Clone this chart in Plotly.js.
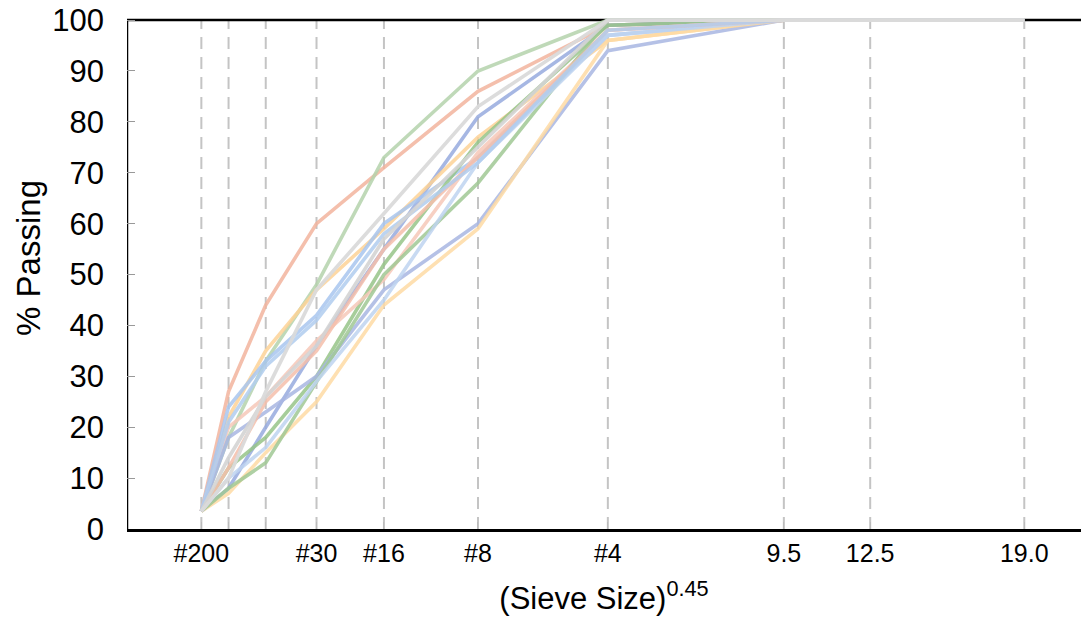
<!DOCTYPE html>
<html>
<head>
<meta charset="utf-8">
<script src="https://cdn.plot.ly/plotly-3.0.1.min.js"></script>
<style>html,body{margin:0;padding:0;background:#fff;}#chart{width:1081px;height:619px;}</style>
</head>
<body>
<div id="chart"></div>
<script>
// Sieve sizes (mm) and tick labels
const sieveSizes = [0.075, 0.15, 0.3, 0.6, 1.18, 2.36, 4.75, 9.5, 12.5, 19.0];
const tickLabels = ["#200", "", "", "#30", "#16", "#8", "#4", "9.5", "12.5", "19.0"];
const yTicks = [0, 10, 20, 30, 40, 50, 60, 70, 80, 90, 100];

// % passing for each gradation
const salmonA = [3.5, 27, 44, 60, 71, 86, 99, 100, 100, 100];
const greenA  = [3.5, 18, 33, 48, 73, 90, 100, 100, 100, 100];
const blueA   = [3.5, 8, 20, 36, 55, 81, 99, 100, 100, 100];
const orangeA = [3.5, 22, 35, 47, 59, 77, 96, 100, 100, 100];
const lblueA  = [3.5, 24, 33, 42, 60, 73, 97, 100, 100, 100];
const greenB  = [3.5, 12, 18, 30, 52, 76, 99, 100, 100, 100];
const salmonB = [3.5, 20, 26, 37, 49, 74, 98, 100, 100, 100];
const blueB   = [3.5, 18, 23, 30, 47, 60, 94, 100, 100, 100];
const orangeB = [3.5, 7, 15, 25, 44, 59, 96, 100, 100, 100];
const greenC  = [3.5, 8, 13, 29, 50, 68, 100, 100, 100, 100];
const lblueB  = [3.5, 10, 16, 29, 45, 72, 97, 100, 100, 100];
const salmonC = [3.5, 12, 25, 35, 55, 73, 98, 100, 100, 100];
const lblueC  = [3.5, 21, 32, 41, 58, 72, 98, 100, 100, 100];
const grayB   = [3.5, 14, 26, 36, 57, 75, 100, 100, 100, 100];
const grayA   = [3.5, 10, 27, 47, 62, 83, 100, 100, 100, 100];

const seriesList = [salmonA, greenA, blueA, orangeA, lblueA, greenB, salmonB, blueB, orangeB, greenC, lblueB, salmonC, lblueC, grayB, grayA];
const seriesColors = [
  'rgba(242,180,158,0.85)', 'rgba(180,210,172,0.85)', 'rgba(150,170,222,0.85)',
  'rgba(253,210,150,0.85)', 'rgba(168,198,238,0.85)', 'rgba(150,196,136,0.85)',
  'rgba(246,200,184,0.85)', 'rgba(168,182,226,0.85)', 'rgba(254,218,164,0.85)',
  'rgba(160,200,148,0.85)', 'rgba(190,212,240,0.85)', 'rgba(244,190,170,0.85)',
  'rgba(176,204,238,0.85)', 'rgba(212,212,212,0.9)', 'rgba(218,218,218,0.95)'
];

const xVals = sieveSizes.map(s => Math.pow(s, 0.45));
const X_MIN = 0, X_MAX = 4, Y_MIN = 0, Y_MAX = 100;

const traces = seriesList.map((ys, i) => ({
  x: xVals, y: ys, type: 'scatter', mode: 'lines',
  line: {color: seriesColors[i], width: 3.6},
  hoverinfo: 'skip', showlegend: false
}));

// frame and dashed grid drawn below the traces
const shapes = [];
xVals.forEach(xv => shapes.push({type: 'line', layer: 'below', xref: 'x', yref: 'y',
  x0: xv, x1: xv, y0: Y_MIN, y1: Y_MAX, line: {color: '#c4c4c4', width: 2, dash: '12px,8px'}}));
shapes.push({type: 'line', layer: 'below', xref: 'x', yref: 'y', x0: X_MIN, x1: X_MAX, y0: Y_MAX, y1: Y_MAX, line: {color: '#000', width: 2.5}});
shapes.push({type: 'line', layer: 'below', xref: 'x', yref: 'y', x0: X_MIN, x1: X_MIN, y0: Y_MIN, y1: Y_MAX, line: {color: '#000', width: 2.5}});

const FONT = 'Liberation Sans, Arial, sans-serif';

const layout = {
  width: 1081, height: 619,
  margin: {l: 127, r: 0, t: 15, b: 90},
  paper_bgcolor: '#fff', plot_bgcolor: '#fff',
  showlegend: false,
  shapes: shapes,
  annotations: [{
    text: '% Passing', textangle: -90, showarrow: false,
    xref: 'paper', yref: 'paper', x: -0.104, y: 0.527, xanchor: 'center', yanchor: 'middle',
    font: {family: FONT, size: 33, color: '#000'}
  }],
  xaxis: {
    range: [X_MIN, X_MAX], tickmode: 'array', tickvals: xVals, ticktext: tickLabels,
    showgrid: false,
    ticks: 'inside', ticklen: 7, tickcolor: '#bbbbbb', tickwidth: 1,
    showline: true, linecolor: '#000', linewidth: 2.5,
    zeroline: false, layer: 'below traces',
    tickfont: {family: FONT, size: 25, color: '#000'},
    title: {text: '(Sieve Size)<sup>0.45</sup>', font: {family: FONT, size: 31, color: '#000'}, standoff: 22}
  },
  yaxis: {
    range: [Y_MIN, 101], tickmode: 'array', tickvals: yTicks,
    showgrid: false, zeroline: false,
    ticks: 'inside', ticklen: 8, tickcolor: '#999999', tickwidth: 1,
    showline: false,
    layer: 'below traces', ticklabelstandoff: 22,
    tickfont: {family: FONT, size: 31, color: '#000'}
  }
};

Plotly.newPlot('chart', traces, layout, {displayModeBar: false, staticPlot: true});
</script>
</body>
</html>
